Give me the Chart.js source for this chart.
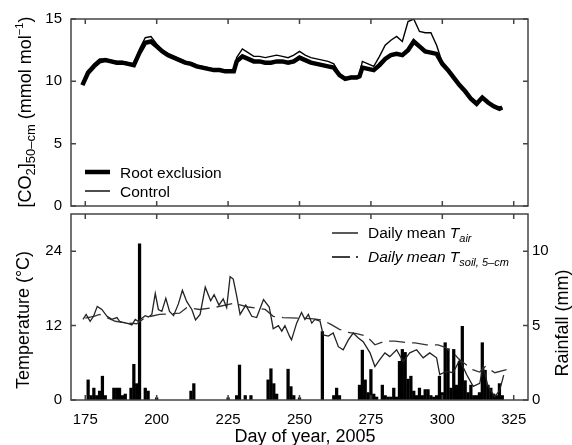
<!DOCTYPE html>
<html>
<head>
<meta charset="utf-8">
<script src="https://cdn.jsdelivr.net/npm/chart.js@4.4.0/dist/chart.umd.min.js"></script>
<style>
  html, body { margin: 0; padding: 0; background: #fff; }
  #wrap { position: relative; width: 572px; height: 445px; overflow: hidden; }
  #co2Chart { position: absolute; left: 0; top: 0; }
  #tempChart { position: absolute; left: 0; top: 196px; }
</style>
</head>
<body>
<div id="wrap">
  <canvas id="co2Chart" width="572" height="224"></canvas>
  <canvas id="tempChart" width="572" height="249"></canvas>
</div>
<script>
// ---- data ----
const dayTicks = [175, 200, 225, 250, 275, 300, 325];
const co2Ticks = [0, 5, 10, 15];
const tempTicks = [0, 12, 24];
const rainTicks = [0, 5, 10];

const co2Days = [174, 176, 178, 180, 182, 184, 186, 188, 190, 192, 194, 196, 198, 200, 202, 204, 206, 208, 210, 212,
  214, 216, 218, 220, 222, 224, 226, 227, 228, 230, 232, 234, 236, 238, 240, 242, 244, 246, 248, 250,
  252, 254, 256, 258, 260, 262, 264, 266, 268, 270, 271, 272, 274, 276, 278, 280, 282, 284, 286, 288,
  290, 292, 294, 296, 298, 300, 302, 304, 306, 308, 310, 312, 314, 316, 318, 320, 321];
const rootExclusion = [9.7, 10.7, 11.2, 11.6, 11.7, 11.6, 11.5, 11.5, 11.4, 11.3, 12.3, 13.1, 13.2, 12.8, 12.4, 12.1, 11.9, 11.7, 11.5, 11.4,
  11.2, 11.1, 11.0, 10.9, 10.9, 10.8, 10.8, 10.8, 11.6, 12.0, 11.8, 11.6, 11.6, 11.5, 11.5, 11.6, 11.6, 11.5, 11.6, 11.9,
  11.7, 11.5, 11.4, 11.3, 11.2, 11.1, 10.5, 10.2, 10.3, 10.3, 10.4, 11.1, 11.0, 10.9, 11.3, 11.8, 12.1, 12.2, 12.1, 12.5,
  13.2, 12.8, 12.4, 12.3, 12.2, 11.4, 10.9, 10.3, 9.7, 9.2, 8.6, 8.2, 8.7, 8.3, 8.0, 7.8, 7.9];
const control = [9.7, 10.8, 11.4, 11.8, 11.8, 11.7, 11.6, 11.6, 11.5, 11.4, 12.6, 13.5, 13.6, 13.0, 12.5, 12.2, 12.0, 11.8, 11.6, 11.5,
  11.3, 11.2, 11.1, 11.0, 11.0, 10.9, 10.9, 10.9, 11.9, 12.6, 12.3, 12.0, 12.0, 11.9, 12.0, 12.1, 12.0, 11.9, 12.1, 12.4,
  12.1, 11.9, 11.8, 11.7, 11.6, 11.4, 10.6, 10.3, 10.4, 10.4, 10.5, 11.6, 11.4, 11.2, 12.0, 12.9, 13.3, 13.6, 13.2, 14.8,
  15.0, 14.0, 13.9, 13.9, 12.9, 11.5, 11.0, 10.4, 9.8, 9.2, 8.6, 8.2, 8.7, 8.3, 8.0, 7.8, 7.9];

const airDays = [174.2, 175.3, 176.7, 177.9, 179.2, 180.8, 182.6, 184.3, 186.1, 187, 188.4, 190.1, 191.3, 192.5, 193.5, 194.8, 196, 197.1, 198.3, 199.5,
  200.6, 201.8, 203.2, 204.5, 205.9, 207.6, 209, 210.5, 212.3, 213.6, 215.2, 217, 218.9, 220.1, 221.8, 223.3, 224.5, 225.7, 226.8, 228,
  229.2, 231.2, 233.3, 235, 237.4, 239.4, 240.8, 242.6, 243.8, 244.9, 246.5, 247.2, 249, 250.7, 251.9, 253.1, 254.3, 255.4, 257.2, 258.3,
  260.1, 261.8, 263.6, 265.3, 267.1, 268.8, 270.6, 272.3, 274.7, 276.4, 278.1, 279.9, 281.6, 284, 286.3, 288.6, 291, 293.3, 295.6, 298,
  299.1, 301.4, 303.8, 306.1, 308.5, 310.8, 313.1, 314.3, 316, 318.4, 320.1, 321.5];
const airTemp = [13.0, 13.8, 12.7, 13.5, 15.1, 14.6, 13.5, 13.0, 13.3, 12.7, 12.5, 12.3, 12.1, 13.0, 12.7, 13.2, 13.6, 13.4, 13.8, 17.2,
  14.6, 14.3, 16.4, 14.3, 13.6, 15.5, 17.7, 15.9, 14.6, 12.9, 13.8, 18.2, 16.0, 17.0, 15.3, 16.3, 14.9, 19.9, 19.5, 16.8,
  13.8, 15.3, 13.5, 13.3, 16.2, 15.0, 11.5, 12.0, 11.1, 12.0, 10.3, 9.7, 12.4, 14.1, 13.0, 13.8, 12.4, 13.0, 12.7, 10.5,
  10.3, 10.8, 8.6, 8.1, 9.7, 10.8, 10.0, 9.4, 7.6, 5.4, 6.5, 7.6, 7.0, 8.1, 6.2, 7.6, 8.1, 6.8, 7.6, 6.8,
  4.1, 4.6, 4.4, 6.5, 4.1, 2.2, 2.7, 5.4, 2.2, 0.5, 1.6, 4.0];

const soilDays = [175, 178, 180, 183, 185.5, 190, 193, 196, 201, 205, 208, 210.5, 215, 220, 226.8, 232, 238, 240.8, 244.3, 250,
  255, 258, 261, 264, 267, 270, 273.5, 276.4, 280, 283.4, 287, 290.4, 294.5, 298.5, 301, 304, 306, 310.6, 313, 315, 318.4, 322.5];
const soilTemp = [13.2, 13.5, 13.8, 13.2, 12.7, 12.4, 12.3, 13.3, 13.8, 13.9, 14.0, 14.9, 14.6, 14.9, 15.6, 15.0, 14.6, 13.5, 13.3, 13.2,
  13.1, 12.9, 12.2, 11.4, 10.9, 10.7, 10.3, 8.9, 9.5, 9.5, 9.3, 9.2, 8.9, 8.9, 8.5, 7.5, 6.5, 4.9, 4.5, 5.4, 4.4, 4.9];

const rainDays = [176, 177, 178, 179, 180, 181, 182, 185, 186, 187, 188, 189, 191, 192, 193, 194, 196, 197, 200, 212,
  213, 225, 228, 229, 231, 233, 239, 240, 241, 242, 246, 247, 248, 250, 258, 262, 263, 264, 271, 272,
  273, 274, 275, 276, 277, 279, 280, 281, 282, 283, 284, 285, 286, 287, 288, 289, 290, 291, 292, 293,
  294, 295, 296, 297, 298, 299, 300, 301, 302, 303, 304, 305, 306, 307, 308, 309, 310, 311, 312, 313,
  314, 315, 316, 317, 318, 319, 320, 321];
const rainMm = [1.35, 0.3, 0.8, 0.3, 0.6, 1.6, 0.3, 0.8, 0.8, 0.8, 0.3, 0.4, 0.8, 2.4, 1.1, 10.5, 0.8, 0.6, 0.15, 0.6,
  1.1, 0.15, 0.3, 2.35, 0.3, 0.3, 1.35, 2.1, 1.1, 0.4, 2.07, 0.9, 0.3, 0.15, 4.6, 0.3, 0.8, 0.3, 1.0, 3.35,
  1.35, 0.5, 2.05, 0.4, 0.2, 1.0, 0.3, 0.2, 0.2, 0.8, 0.2, 2.6, 3.4, 3.2, 1.4, 1.6, 0.6, 0.3, 0.8, 0.3,
  0.7, 0.7, 0.3, 0.2, 0.3, 1.6, 0.5, 3.85, 3.45, 0.8, 3.4, 1.0, 2.6, 4.95, 1.3, 0.5, 1.0, 0.3, 0.3, 0.5,
  3.85, 2.0, 1.0, 0.8, 0.4, 0.3, 1.1, 0.3];

const FONT = '"Liberation Sans", Arial, Helvetica, sans-serif';
const FRAME = '#444';

function pts(xs, ys) {
  return xs.map((x, i) => ({ x: x, y: ys[i] }));
}

// parts: [text, size, dy, italic]
function richText(ctx, parts, x, y, angle, align) {
  ctx.save();
  ctx.translate(x, y);
  ctx.rotate(angle);
  ctx.fillStyle = '#000';
  ctx.textBaseline = 'alphabetic';
  ctx.textAlign = 'left';
  let total = 0;
  parts.forEach(p => {
    ctx.font = (p[3] ? 'italic ' : '') + p[1] + 'px ' + FONT;
    total += ctx.measureText(p[0]).width;
  });
  let cx = align === 'center' ? -total / 2 : 0;
  parts.forEach(p => {
    ctx.font = (p[3] ? 'italic ' : '') + p[1] + 'px ' + FONT;
    ctx.fillText(p[0], cx, p[2]);
    cx += ctx.measureText(p[0]).width;
  });
  ctx.restore();
}

function legendLine(ctx, x1, x2, y, width, dash) {
  ctx.save();
  ctx.strokeStyle = '#000';
  ctx.lineWidth = width;
  ctx.setLineDash(dash || []);
  ctx.beginPath();
  ctx.moveTo(x1, y);
  ctx.lineTo(x2, y);
  ctx.stroke();
  ctx.restore();
}

// box round the plot with inward ticks on all sides
function framePlugin(leftId, rightId) {
  return {
    id: 'frame',
    afterDatasetsDraw(chart) {
      const ctx = chart.ctx;
      const a = chart.chartArea;
      const len = 5;
      ctx.save();
      ctx.strokeStyle = FRAME;
      ctx.lineWidth = 1.5;
      ctx.strokeRect(a.left, a.top, a.right - a.left, a.bottom - a.top);
      ctx.beginPath();
      const sx = chart.scales.x;
      dayTicks.forEach(v => {
        const px = sx.getPixelForValue(v);
        ctx.moveTo(px, a.bottom); ctx.lineTo(px, a.bottom - len);
        ctx.moveTo(px, a.top); ctx.lineTo(px, a.top + len);
      });
      const sl = chart.scales[leftId];
      sl.ticks.forEach(t => {
        const py = sl.getPixelForValue(t.value);
        ctx.moveTo(a.left, py); ctx.lineTo(a.left + len, py);
      });
      const sr = chart.scales[rightId];
      sr.ticks.forEach(t => {
        const py = sr.getPixelForValue(t.value);
        ctx.moveTo(a.right, py); ctx.lineTo(a.right - len, py);
      });
      ctx.stroke();
      ctx.restore();
    }
  };
}

const tickFont = { family: FONT, size: 15 };

// ---- top panel: soil CO2 ----
new Chart(document.getElementById('co2Chart'), {
  type: 'line',
  data: {
    datasets: [
      {
        label: 'Root exclusion',
        data: pts(co2Days, rootExclusion),
        borderColor: '#000',
        borderWidth: 4.5,
        pointRadius: 0,
        tension: 0
      },
      {
        label: 'Control',
        data: pts(co2Days, control),
        borderColor: '#000',
        borderWidth: 1.4,
        pointRadius: 0,
        tension: 0
      }
    ]
  },
  options: {
    responsive: false,
    animation: false,
    layout: { padding: { top: 19, right: 44, left: 0, bottom: 0 } },
    plugins: { legend: { display: false }, tooltip: { enabled: false } },
    scales: {
      x: {
        type: 'linear', min: 170, max: 330,
        afterBuildTicks: s => { s.ticks = dayTicks.map(v => ({ value: v })); },
        afterFit: s => { s.height = 15; },
        ticks: { display: false },
        grid: { display: false, drawTicks: false },
        border: { display: false }
      },
      y: {
        min: 0, max: 15,
        afterBuildTicks: s => { s.ticks = co2Ticks.map(v => ({ value: v })); },
        afterFit: s => { s.width = 71; },
        ticks: { font: tickFont, color: '#000', padding: 9 },
        grid: { display: false, drawTicks: false },
        border: { display: false }
      }
    }
  },
  plugins: [framePlugin('y', 'y'), {
    id: 'co2Text',
    afterDraw(chart) {
      const ctx = chart.ctx;
      richText(ctx, [
        ['[CO', 18, 0], ['2', 13, 4], [']', 18, 0], ['50\u2013cm', 13, 4],
        [' (mmol mol', 18, 0], ['\u22121', 11, -8], [')', 18, 0]
      ], 31, 112, -Math.PI / 2, 'center');
      legendLine(ctx, 85, 110, 172, 4.5);
      legendLine(ctx, 85, 110, 191, 1.4);
      richText(ctx, [['Root exclusion', 15.5, 0]], 120, 177.5, 0, 'left');
      richText(ctx, [['Control', 15.5, 0]], 120, 196.5, 0, 'left');
    }
  }]
});

// ---- bottom panel: temperature and rainfall ----
const OFF = 196;
new Chart(document.getElementById('tempChart'), {
  type: 'bar',
  data: {
    datasets: [
      {
        type: 'line',
        label: 'Daily mean Tair',
        data: pts(airDays, airTemp),
        yAxisID: 'yT',
        borderColor: '#222',
        borderWidth: 1.3,
        pointRadius: 0,
        tension: 0,
        order: 1
      },
      {
        type: 'line',
        label: 'Daily mean Tsoil, 5-cm',
        data: pts(soilDays, soilTemp),
        yAxisID: 'yT',
        borderColor: '#333',
        borderWidth: 1.3,
        borderDash: [16, 7],
        pointRadius: 0,
        tension: 0,
        order: 2
      },
      {
        label: 'Rainfall',
        data: pts(rainDays, rainMm),
        yAxisID: 'yR',
        backgroundColor: '#000',
        barThickness: 2.6,
        order: 3
      }
    ]
  },
  options: {
    responsive: false,
    animation: false,
    layout: { padding: { top: 5, right: 0, left: 0, bottom: 0 } },
    plugins: { legend: { display: false }, tooltip: { enabled: false } },
    scales: {
      x: {
        type: 'linear', min: 170, max: 330, offset: false,
        afterBuildTicks: s => { s.ticks = dayTicks.map(v => ({ value: v })); },
        afterFit: s => { s.height = 45; },
        ticks: { font: tickFont, color: '#000', padding: 11, maxRotation: 0 },
        grid: { display: false, drawTicks: false },
        border: { display: false }
      },
      yT: {
        position: 'left', min: 0, max: 30,
        afterBuildTicks: s => { s.ticks = tempTicks.map(v => ({ value: v })); },
        afterFit: s => { s.width = 71; },
        ticks: { font: tickFont, color: '#000', padding: 9 },
        grid: { display: false, drawTicks: false },
        border: { display: false }
      },
      yR: {
        position: 'right', min: 0, max: 12.5,
        afterBuildTicks: s => { s.ticks = rainTicks.map(v => ({ value: v })); },
        afterFit: s => { s.width = 44; },
        ticks: { font: tickFont, color: '#000', padding: 4 },
        grid: { display: false, drawTicks: false },
        border: { display: false }
      }
    }
  },
  plugins: [framePlugin('yT', 'yR'), {
    id: 'tempText',
    afterDraw(chart) {
      const ctx = chart.ctx;
      richText(ctx, [['Temperature (\u00b0C)', 18, 0]], 29, 320 - OFF, -Math.PI / 2, 'center');
      richText(ctx, [['Rainfall (mm)', 18, 0]], 568, 323 - OFF, -Math.PI / 2, 'center');
      richText(ctx, [['Day of year, 2005', 18, 0]], 305, 442 - OFF, 0, 'center');
      legendLine(ctx, 332, 358, 233 - OFF, 1.3);
      legendLine(ctx, 332, 358, 257 - OFF, 1.3, [18, 6]);
      richText(ctx, [['Daily mean ', 15.5, 0], ['T', 15.5, 0, true], ['air', 11, 4, true]], 368, 238 - OFF, 0, 'left');
      richText(ctx, [['Daily mean ', 15.5, 0, true], ['T', 15.5, 0, true], ['soil, 5\u2013cm', 11, 4, true]], 368, 262 - OFF, 0, 'left');
    }
  }]
});
</script>
</body>
</html>
